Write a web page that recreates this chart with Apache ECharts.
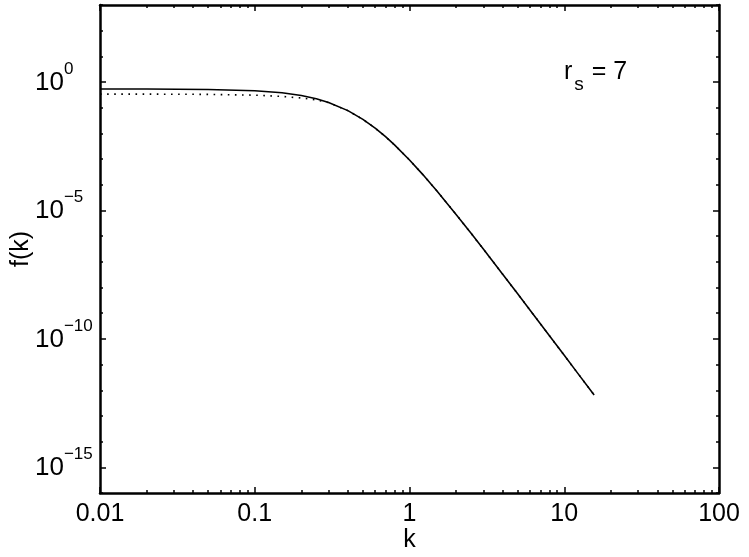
<!DOCTYPE html>
<html>
<head>
<meta charset="utf-8">
<script src="https://cdn.jsdelivr.net/npm/echarts@6.0.0/dist/echarts.min.js"></script>
<style>
html, body { margin: 0; padding: 0; background: #fff; }
#chart { width: 749px; height: 557px; }
</style>
</head>
<body>
<div id="chart"></div>
<script>
// values
var kValues = [0.01, 0.02, 0.05, 0.1, 0.15, 0.2, 0.25, 0.3, 0.4, 0.5, 0.6, 0.7, 0.8,
               1.0, 1.2, 1.5, 2, 2.5, 3, 4, 5, 6, 8, 10, 12, 15.6];
var fSolid = [0.537, 0.534, 0.516, 0.460, 0.384, 0.301, 0.224, 0.161, 0.0771, 0.0352, 0.0160, 0.00745, 0.00358,
              9.27e-4, 2.79e-4, 5.85e-5, 7.03e-6, 1.29e-6, 3.14e-7, 3.30e-8, 5.68e-9, 1.34e-9, 1.35e-10, 2.29e-11, 5.32e-12, 6.55e-13];
var fDotted = [0.339, 0.339, 0.331, 0.309, 0.275, 0.240, 0.200, 0.158, 0.0767, 0.0352, 0.0160, 0.00745, 0.00358,
               9.27e-4, 2.79e-4, 5.85e-5, 7.03e-6, 1.29e-6, 3.14e-7, 3.30e-8, 5.68e-9, 1.34e-9, 1.35e-10, 2.29e-11, 5.32e-12, 6.55e-13];

// tick labels / tick positions
var xMinorTicks = [0.02, 0.03, 0.04, 0.05, 0.06, 0.07, 0.08, 0.09,
                   0.2, 0.3, 0.4, 0.5, 0.6, 0.7, 0.8, 0.9,
                   2, 3, 4, 5, 6, 7, 8, 9,
                   20, 30, 40, 50, 60, 70, 80, 90];
var yDecadeTicks = [1e-16, 1e-15, 1e-14, 1e-13, 1e-12, 1e-11, 1e-10, 1e-9, 1e-8, 1e-7, 1e-6,
                    1e-5, 1e-4, 1e-3, 1e-2, 1e-1, 1, 10, 100, 1000];
var yLabelTicks = [1e-15, 1e-10, 1e-5, 1];

var FONT = 'Liberation Sans';
var chart = echarts.init(document.getElementById('chart'));

function pair(ys) {
    return kValues.map(function (k, i) { return [k, ys[i]]; });
}

function xAxisDef(pos, opts) {
    var ax = {
        type: 'log', logBase: 10, min: 0.01, max: 100, interval: 1,
        position: pos,
        splitLine: { show: false },
        axisLine: { show: opts.line, onZero: false, lineStyle: { color: '#000', width: 2.5 } },
        axisTick: { show: true, inside: true, length: opts.tickLen, lineStyle: { color: '#000', width: 1.5 } },
        axisLabel: { show: false }
    };
    if (opts.ticks) ax.axisTick.customValues = opts.ticks;
    return ax;
}

function yAxisDef(pos, opts) {
    var ax = {
        type: 'log', logBase: 10, min: 1e-16, max: 1000,
        position: pos,
        splitLine: { show: false },
        axisLine: { show: opts.line, onZero: false, lineStyle: { color: '#000', width: 2.5 } },
        axisTick: { show: true, inside: true, length: opts.tickLen, customValues: opts.ticks,
                    lineStyle: { color: '#000', width: 1.5 } },
        axisLabel: { show: false }
    };
    return ax;
}

var xMain = xAxisDef('bottom', { line: true, tickLen: 6 });
xMain.axisLabel = {
    show: true, color: '#000', fontFamily: FONT, fontSize: 25, margin: 9,
    formatter: function (v) { return String(+v.toPrecision(6)); }
};
xMain.name = 'k';
xMain.nameLocation = 'middle';
xMain.nameGap = 35;
xMain.nameMoveOverlap = false;
xMain.nameTextStyle = { color: '#000', fontFamily: FONT, fontSize: 25 };

var yMain = yAxisDef('left', { line: true, tickLen: 6, ticks: yLabelTicks });
yMain.axisLabel = {
    show: true, customValues: yLabelTicks, align: 'left', margin: 65,
    padding: [0, 0, 8, 0],
    formatter: function (v) {
        var e = Math.round(Math.log(v) / Math.LN10);
        return '{b|10}{s|' + (e < 0 ? '\u2212' + (-e) : e) + '}';
    },
    rich: {
        b: { fontFamily: FONT, fontSize: 26, color: '#000', lineHeight: 35, verticalAlign: 'bottom' },
        s: { fontFamily: FONT, fontSize: 17, color: '#000', lineHeight: 17, verticalAlign: 'top' }
    }
};
yMain.name = 'f(k)';
yMain.nameLocation = 'middle';
yMain.nameGap = 66;
yMain.nameMoveOverlap = false;
yMain.nameTextStyle = { color: '#000', fontFamily: FONT, fontSize: 25 };

var option = {
    animation: false,
    backgroundColor: '#fff',
    title: {
        text: '{r|r}{s|s}{r| = 7}',
        left: 564, top: 60, padding: 0,
        textStyle: {
            fontWeight: 'normal',
            rich: {
                r: { fontFamily: FONT, fontSize: 25, fontWeight: 'normal', color: '#000', lineHeight: 25, verticalAlign: 'top' },
                s: { fontFamily: FONT, fontSize: 19, fontWeight: 'normal', color: '#000', lineHeight: 34, verticalAlign: 'bottom',
                     padding: [0, 1, 0, 2] }
            }
        }
    },
    grid: { left: 100, right: 30, top: 5, bottom: 64, containLabel: false, outerBoundsMode: 'none' },
    xAxis: [
        xMain,
        xAxisDef('top', { line: true, tickLen: 6 }),
        xAxisDef('bottom', { line: false, tickLen: 3, ticks: xMinorTicks }),
        xAxisDef('top', { line: false, tickLen: 3, ticks: xMinorTicks })
    ],
    yAxis: [
        yMain,
        yAxisDef('right', { line: true, tickLen: 6, ticks: yLabelTicks }),
        yAxisDef('left', { line: false, tickLen: 3, ticks: yDecadeTicks }),
        yAxisDef('right', { line: false, tickLen: 3, ticks: yDecadeTicks })
    ],
    series: [
        {
            name: 'dotted', type: 'line', xAxisIndex: 0, yAxisIndex: 0,
            data: pair(fDotted), showSymbol: false, symbol: 'none',
            lineStyle: { color: '#000', width: 1.6, type: [1.6, 5.5] }
        },
        {
            name: 'solid', type: 'line', xAxisIndex: 0, yAxisIndex: 0,
            data: pair(fSolid), showSymbol: false, symbol: 'none',
            lineStyle: { color: '#000', width: 1.6, type: 'solid' }
        }
    ]
};
chart.setOption(option);
</script>
</body>
</html>
